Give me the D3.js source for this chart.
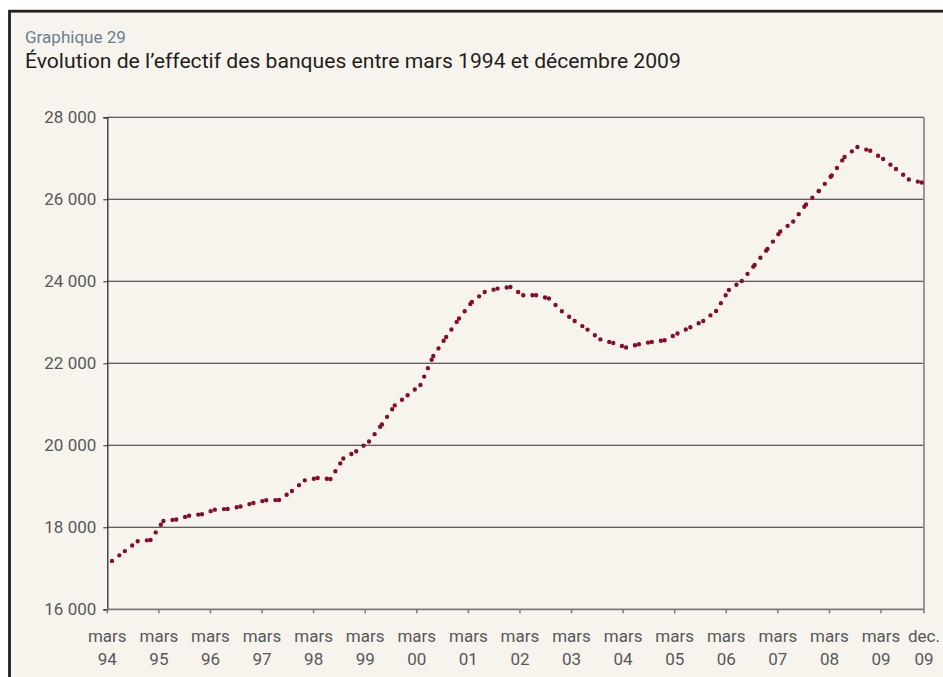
<!DOCTYPE html>
<html><head><meta charset="utf-8">
<script src="https://cdn.jsdelivr.net/npm/d3@7/dist/d3.min.js"></script>
<style>
html,body{margin:0;padding:0;background:#fff;}
svg{display:block;font-family:Roboto,"Noto Sans",sans-serif;}
</style></head>
<body>
<svg id="c" width="943" height="677"></svg>
<script>
// ---- data ----
const quarters = [
 "1994-03","1994-06","1994-09","1994-12","1995-03","1995-06","1995-09","1995-12",
 "1996-03","1996-06","1996-09","1996-12","1997-03","1997-06","1997-09","1997-12",
 "1998-03","1998-06","1998-09","1998-12","1999-03","1999-06","1999-09","1999-12",
 "2000-03","2000-06","2000-09","2000-12","2001-03","2001-06","2001-09","2001-12",
 "2002-03","2002-06","2002-09","2002-12","2003-03","2003-06","2003-09","2003-12",
 "2004-03","2004-06","2004-09","2004-12","2005-03","2005-06","2005-09","2005-12",
 "2006-03","2006-06","2006-09","2006-12","2007-03","2007-06","2007-09","2007-12",
 "2008-03","2008-06","2008-09","2008-12","2009-03","2009-06","2009-09","2009-12"
];
const effectif = [
 17180,17420,17660,17690, 18155,18190,18283,18320,
 18430,18449,18507,18593, 18659,18666,18885,19145,
 19202,19178,19678,19856, 20093,20508,20973,21220,
 21471,22178,22641,23092, 23495,23739,23822,23861,
 23659,23661,23580,23271, 23032,22822,22583,22495,
 22385,22466,22522,22561, 22727,22880,23032,23276,
 23788,24007,24398,24788, 25215,25459,25873,26205,
 26580,27032,27276,27183, 26983,26739,26483,26410
];
const yTicks = [16000,18000,20000,22000,24000,26000,28000];
const xTickMonths = [0,12,24,36,48,60,72,84,96,108,120,132,144,156,168,180,190];
const xTickLabels = [
 ["mars","94"],["mars","95"],["mars","96"],["mars","97"],["mars","98"],["mars","99"],
 ["mars","00"],["mars","01"],["mars","02"],["mars","03"],["mars","04"],["mars","05"],
 ["mars","06"],["mars","07"],["mars","08"],["mars","09"],["dec.","09"]
];
const subtitle = "Graphique 29";
const title = "Évolution de l’effectif des banques entre mars 1994 et décembre 2009";

// ---- drawing ----
const svg = d3.select("#c");
const L = 107.3, R = 924, T = 117.3, B = 609.3;
const lineColor = "#860b2d", labelColor = "#58585a";

svg.append("rect").attr("x",9.5).attr("y",11.2).attr("width",960).attr("height",700)
  .attr("fill","#f7f4ed").attr("stroke","#231f20").attr("stroke-width",2.8);

function fitText(sel, targetW, base){
  sel.attr("font-size", base);
  const w = sel.node().getComputedTextLength();
  sel.attr("font-size", base*targetW/w);
}
const st = svg.append("text").attr("x",25).attr("y",43).attr("fill","#6b7f93").text(subtitle);
fitText(st, 101, 16);
const tt = svg.append("text").attr("x",25).attr("y",68).attr("fill","#231f20").text(title);
fitText(tt, 656, 20);

const y = d3.scaleLinear().domain([16000,28000]).range([B,T]);
const xPts = d3.scalePoint().domain(quarters).range([112, 921.7]);
const xAx = d3.scaleLinear().domain([0,190]).range([L,R]);

// gridlines
svg.append("g").selectAll("line").data(yTicks.filter(v=>v>16000)).join("line")
  .attr("x1",L).attr("x2",R).attr("y1",d=>y(d)).attr("y2",d=>y(d))
  .attr("stroke","#2e2e2e").attr("stroke-width",1.1);
// right border
svg.append("line").attr("x1",R).attr("x2",R).attr("y1",T).attr("y2",B)
  .attr("stroke","#8e8e8e").attr("stroke-width",1.8);

// y axis
const ya = svg.append("g").attr("transform",`translate(${L},0)`)
  .call(d3.axisLeft(y).tickValues(yTicks).tickSize(4).tickPadding(7)
    .tickFormat(d=>d3.format(",")(d).replace(",", "\u202F").replace("\u202F"," ")));
ya.select(".domain").attr("stroke","#2e2e2e").attr("stroke-width",1.3);
ya.selectAll(".tick line").attr("stroke","#2e2e2e");
ya.selectAll("text").attr("font-size",17).attr("fill",labelColor)
  .attr("font-family","Roboto,sans-serif");

// x axis
const xa = svg.append("g");
xa.append("line").attr("x1",L).attr("x2",R).attr("y1",B).attr("y2",B)
  .attr("stroke","#7a7a7a").attr("stroke-width",1.8);
const xt = xa.selectAll("g.t").data(xTickMonths.map((m,i)=>({m,lab:xTickLabels[i]}))).join("g")
  .attr("transform",d=>`translate(${xAx(d.m)},0)`);
xt.append("line").attr("y1",B).attr("y2",B+4).attr("stroke","#7a7a7a").attr("stroke-width",1.5);
xt.append("text").attr("y",642).attr("text-anchor","middle").attr("font-size",17)
  .attr("fill",labelColor).text(d=>d.lab[0]);
xt.append("text").attr("y",665).attr("text-anchor","middle").attr("font-size",17)
  .attr("fill",labelColor).text(d=>d.lab[1]);

// dotted series, one segment per pair of quarters
const pts = quarters.map((q,i)=>[xPts(q), y(effectif[i])]);
const segs = d3.pairs(pts);
const lineGen = d3.line();
svg.append("g").selectAll("path").data(segs).join("path")
  .attr("d",d=>lineGen(d)).attr("fill","none").attr("stroke",lineColor)
  .attr("stroke-width",4.4).attr("stroke-linecap","round").attr("stroke-dasharray","0 9.2");
svg.append("circle").datum(pts[pts.length-1]).attr("cx",d=>d[0]).attr("cy",d=>d[1])
  .attr("r",2.2).attr("fill",lineColor);
</script>
</body></html>
